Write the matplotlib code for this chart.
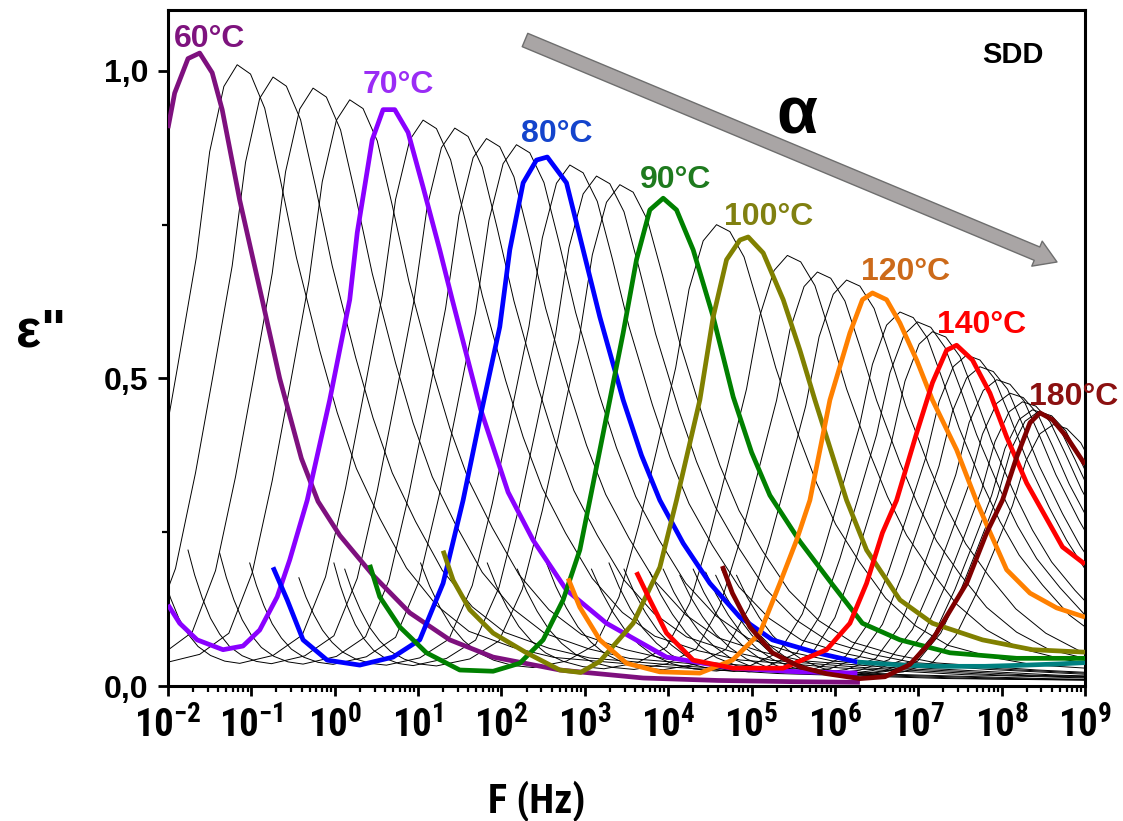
import numpy as np
import matplotlib
matplotlib.use('Agg')
import matplotlib.pyplot as plt
from matplotlib import font_manager as fm
from matplotlib.ticker import FixedLocator, LogLocator, NullFormatter

# === data (log10 of frequency in Hz, eps'') ===
C60_LOGF = [-2.0, -1.92, -1.76, -1.62, -1.47, -1.35, -1.14, -0.87, -0.66, -0.4, -0.2, 0.06,
            0.46, 0.9, 1.38, 1.9, 2.7, 3.7, 4.6, 5.5, 6.3]
C60_EPS = [0.907, 0.964, 1.02, 1.029, 0.997, 0.937, 0.79, 0.628, 0.50, 0.37, 0.30, 0.245,
           0.18, 0.119, 0.075, 0.047, 0.026, 0.013, 0.009, 0.007, 0.006]

C70_LOGF = [-2.0, -1.86, -1.65, -1.34, -1.1, -0.9, -0.69, -0.54, -0.33, -0.06, 0.18, 0.27, 0.45,
            0.58, 0.72, 0.88, 1.06, 1.26, 1.41, 1.75, 2.08, 2.38, 2.78, 3.26, 3.98, 4.77, 5.58, 6.27]
C70_EPS = [0.132, 0.102, 0.075, 0.059, 0.065, 0.091, 0.145, 0.205, 0.302, 0.465, 0.628, 0.737, 0.888,
           0.937, 0.937, 0.90, 0.811, 0.709, 0.628, 0.45, 0.315, 0.237, 0.156, 0.102, 0.047, 0.029,
           0.023, 0.021]

C80_LOGF = [-0.74, -0.57, -0.38, -0.09, 0.3, 0.7, 1.02, 1.3, 1.54, 1.75, 1.98, 2.1, 2.26, 2.42,
            2.55, 2.78, 2.98, 3.18, 3.46, 3.68, 3.9, 4.18, 4.5, 4.86, 5.25, 5.78, 6.27]
C80_EPS = [0.193, 0.14, 0.075, 0.042, 0.034, 0.047, 0.075, 0.167, 0.302, 0.44, 0.584, 0.709, 0.818,
           0.855, 0.86, 0.818, 0.709, 0.6, 0.465, 0.375, 0.302, 0.232, 0.167, 0.112, 0.075, 0.054,
           0.039]
C80_HF_LOGF = [6.27, 6.8, 7.3, 7.8, 8.3, 8.7, 9.0]
C80_HF_EPS = [0.039, 0.034, 0.032, 0.032, 0.034, 0.036, 0.038]

C90_LOGF = [0.42, 0.54, 0.78, 1.1, 1.5, 1.9, 2.22, 2.5, 2.74, 2.94, 3.06, 3.3, 3.46, 3.62, 3.78,
            3.94, 4.1, 4.3, 4.54, 4.78, 5.0, 5.22, 5.58, 5.97, 6.33, 6.78, 7.38, 8.18, 9.0]
C90_EPS = [0.197, 0.145, 0.096, 0.054, 0.026, 0.024, 0.037, 0.075, 0.14, 0.221, 0.302, 0.465, 0.574,
           0.693, 0.774, 0.793, 0.774, 0.709, 0.6, 0.47, 0.38, 0.31, 0.235, 0.165, 0.102, 0.075,
           0.054, 0.045, 0.045]

C100_LOGF = [1.3, 1.42, 1.62, 1.9, 2.3, 2.7, 2.95, 3.18, 3.58, 3.9, 4.1, 4.38, 4.54, 4.7, 4.86,
             4.96, 5.14, 5.38, 5.58, 5.76, 6.14, 6.38, 6.78, 7.17, 7.77, 8.37, 9.0]
C100_EPS = [0.22, 0.172, 0.124, 0.086, 0.054, 0.026, 0.022, 0.04, 0.102, 0.193, 0.302, 0.465, 0.6,
            0.693, 0.725, 0.73, 0.704, 0.628, 0.546, 0.465, 0.302, 0.221, 0.14, 0.102, 0.075, 0.059,
            0.055]

C120_LOGF = [2.8, 2.94, 3.18, 3.5, 3.9, 4.38, 4.77, 5.1, 5.34, 5.54, 5.7, 5.94, 6.18, 6.33, 6.45,
             6.62, 6.78, 6.98, 7.17, 7.46, 7.7, 7.86, 8.06, 8.34, 8.66, 9.0]
C120_EPS = [0.175, 0.128, 0.075, 0.037, 0.023, 0.021, 0.042, 0.086, 0.167, 0.237, 0.302, 0.465,
            0.574, 0.628, 0.639, 0.628, 0.59, 0.53, 0.465, 0.384, 0.30, 0.25, 0.189, 0.151, 0.127,
            0.112]

C140_LOGF = [3.62, 3.78, 3.98, 4.3, 4.78, 5.38, 5.9, 6.18, 6.38, 6.57, 6.74, 6.98, 7.17, 7.34,
             7.46, 7.65, 7.86, 8.06, 8.3, 8.54, 8.73, 9.0]
C140_EPS = [0.185, 0.14, 0.086, 0.042, 0.029, 0.029, 0.059, 0.102, 0.167, 0.249, 0.302, 0.411,
            0.493, 0.546, 0.554, 0.53, 0.476, 0.405, 0.33, 0.272, 0.226, 0.198]

C180_LOGF = [4.65, 4.77, 4.98, 5.25, 5.58, 5.9, 6.3, 6.6, 6.9, 7.17, 7.58, 7.82, 8.01, 8.18, 8.34,
             8.46, 8.61, 8.78, 9.0]
C180_EPS = [0.195, 0.151, 0.096, 0.054, 0.031, 0.02, 0.012, 0.015, 0.035, 0.075, 0.167, 0.249,
            0.302, 0.372, 0.428, 0.444, 0.433, 0.405, 0.36]

# thin black isotherms: peak position / height and where the low-frequency tail starts
BLACK_T = [62, 64, 66, 68, 72, 74, 76, 78, 82, 84, 86, 95, 105, 110, 115, 125, 130, 135,
           145, 150, 155, 160, 165, 170, 175, 185]
BLACK_PEAK_LOGF = [-1.17, -0.74, -0.26, 0.18, 1.06, 1.44, 1.82, 2.18, 2.82, 3.14, 3.42, 4.58,
                   5.43, 5.79, 6.14, 6.78, 6.99, 7.17, 7.58, 7.74, 7.94, 8.10, 8.25, 8.37, 8.44, 8.62]
BLACK_PEAK_EPS = [1.01, 0.99, 0.972, 0.953, 0.92, 0.907, 0.89, 0.88, 0.847, 0.829, 0.815, 0.75,
                  0.70, 0.673, 0.66, 0.608, 0.592, 0.576, 0.538, 0.519, 0.498, 0.476, 0.462,
                  0.449, 0.446, 0.425]
BLACK_TAIL_LOGF = [-4.37, -3.94, -3.46, -3.02, -2.14, -1.76, -1.38, -1.02, -0.43, -0.01, 0.12,
                   1.03, 1.83, 2.19, 2.54, 3.08, 3.29, 3.47, 3.78, 3.94, 4.14, 4.30, 4.45, 4.57,
                   4.64, 4.82]
BLACK_TAIL_EPS = [0.22, 0.22, 0.22, 0.22, 0.22, 0.221, 0.216, 0.2, 0.176, 0.2, 0.19, 0.2, 0.2,
                  0.19, 0.2, 0.19, 0.2, 0.19, 0.185, 0.19, 0.18, 0.19, 0.185, 0.18, 0.19, 0.18]

# shape of one loss peak (offset from the peak in decades, fraction of peak height),
# read from the 80 C isotherm
SHAPE_DX = [-2.2, -1.8, -1.45, -1.17, -0.93, -0.72, -0.49, -0.33, -0.16, 0.0, 0.16, 0.33, 0.51,
            0.71, 0.99, 1.2, 1.43, 1.71, 2.03, 2.39, 2.78, 3.31, 3.8, 5.0, 6.5, 8.5, 11.0]
SHAPE_EPS = [0.040, 0.054, 0.09, 0.193, 0.35, 0.51, 0.69, 0.86, 0.965, 1.0, 0.985, 0.93, 0.82,
             0.69, 0.54, 0.44, 0.35, 0.27, 0.19, 0.13, 0.088, 0.062, 0.046, 0.032, 0.02, 0.012,
             0.008]
# conductivity tail: fraction of the way from tail start to the peak's foot
TAIL_U = [0.0, 0.08, 0.17, 0.27, 0.38, 0.5, 0.65, 0.82, 1.0]
TAIL_W = [1.0, 0.78, 0.58, 0.4, 0.26, 0.15, 0.07, 0.02, 0.0]

Y_TICKS = [0.0, 0.5, 1.0]
Y_TICK_LABELS = ['0,0', '0,5', '1,0']
X_TICK_EXP = list(range(-2, 10))

# === fonts ===
names = {f.name for f in fm.fontManager.ttflist}
XFONT, xt_size = 'Liberation Sans', 25
for cand, size in [('Liberation Sans Narrow', 28), ('Roboto Condensed', 28),
                   ('DejaVu Sans Condensed', 24)]:
    if cand in names:
        XFONT, xt_size = cand, size
        break
plt.rcParams['font.family'] = ['Liberation Sans', 'DejaVu Sans']
plt.rcParams['mathtext.fontset'] = 'custom'
for key in ['rm', 'bf', 'it', 'sf']:
    plt.rcParams['mathtext.' + key] = XFONT + ':bold'

W, H = 1123, 821
fig = plt.figure(figsize=(W / 100, H / 100), dpi=100)
ax = fig.add_axes([168 / W, 135 / H, 917 / W, 676 / H])


def px(x, y):
    return x / W, 1 - y / H


# black isotherms
dx = np.array(SHAPE_DX)
shape = np.array(SHAPE_EPS)
tu = np.array(TAIL_U)
tw = np.array(TAIL_W)
for p, h, s, v in zip(BLACK_PEAK_LOGF, BLACK_PEAK_EPS, BLACK_TAIL_LOGF, BLACK_TAIL_EPS):
    xp = p + dx
    yp = h * shape
    xt = s + tu * (xp[0] - s)
    yt = yp[0] + tw * (v - yp[0])
    lx = np.concatenate([xt[:-1], xp])
    ly = np.concatenate([yt[:-1], yp])
    ax.plot(10.0 ** lx, ly, color='black', lw=0.7, zorder=2)

colored = [
    (C60_LOGF, C60_EPS, '#7e107e'),
    (C70_LOGF, C70_EPS, '#8a00ff'),
    (C80_LOGF, C80_EPS, '#0000ff'),
    (C80_HF_LOGF, C80_HF_EPS, '#008080'),
    (C90_LOGF, C90_EPS, '#008000'),
    (C100_LOGF, C100_EPS, '#808000'),
    (C120_LOGF, C120_EPS, '#ff8000'),
    (C140_LOGF, C140_EPS, '#ff0000'),
    (C180_LOGF, C180_EPS, '#800000'),
]
for i, (lf, ep, c) in enumerate(colored):
    ax.plot(10.0 ** np.array(lf), ep, color=c, lw=3.4, zorder=3 + i * 0.1,
            solid_joinstyle='round', solid_capstyle='butt')

ax.set_xscale('log')
ax.set_xlim(1e-2, 1e9)
ax.set_ylim(0, 1.099)

ax.xaxis.set_major_locator(FixedLocator([10.0 ** e for e in X_TICK_EXP]))
ax.xaxis.set_minor_locator(LogLocator(base=10, subs=np.arange(2, 10), numticks=30))
ax.xaxis.set_minor_formatter(NullFormatter())
ax.set_xticklabels([r'$10^{%d}$' % e for e in X_TICK_EXP], fontsize=xt_size)
ax.set_yticks(Y_TICKS)
ax.set_yticks([0.25, 0.75], minor=True)
ax.set_yticklabels(Y_TICK_LABELS, fontsize=23, fontweight='bold')

ax.tick_params(axis='both', which='major', direction='out', length=7, width=2)
ax.tick_params(axis='both', which='minor', direction='out', length=4, width=1.6)
ax.tick_params(axis='x', which='major', pad=8)
ax.tick_params(axis='y', which='major', pad=7)
ax.tick_params(top=False, right=False)
for sp in ax.spines.values():
    sp.set_linewidth(2.2)

# axis titles
fig.text(*px(41, 346), 'ε"', fontsize=38, fontweight='bold', ha='center', va='baseline')
fig.text(*px(537, 813), 'F (Hz)', fontsize=xt_size + 1, fontweight='bold', family=XFONT,
         ha='center', va='baseline')

# curve labels
labels = [
    ('60°C', 210, 47, '#7e137e'),
    ('70°C', 398, 93, '#9a2cf5'),
    ('80°C', 557, 142, '#1444cc'),
    ('90°C', 676, 188, '#1e7a1e'),
    ('100°C', 769, 225, '#808010'),
    ('120°C', 906, 280, '#cc6a1a'),
    ('140°C', 982, 333, '#ff0000'),
    ('180°C', 1074, 405, '#8b1010'),
]
for txt, x, y, c in labels:
    fig.text(*px(x, y), txt, color=c, fontsize=23, fontweight='bold', ha='center',
             va='baseline', zorder=10)

fig.text(*px(1013, 63), 'SDD', fontsize=21, fontweight='bold', ha='center', va='baseline')
fig.text(*px(797, 133), 'α', fontsize=48, fontweight='bold', ha='center', va='baseline')

ax.annotate('', xy=(1057, H - 262), xycoords='figure pixels',
            xytext=(525, H - 40), textcoords='figure pixels',
            arrowprops=dict(arrowstyle='simple,head_width=1.5,head_length=1.2,tail_width=0.8',
                            mutation_scale=13, fc='#a9a5a5', ec='#6e6e6e', lw=1,
                            shrinkA=0, shrinkB=0))

fig.savefig('out.png', dpi=100)
